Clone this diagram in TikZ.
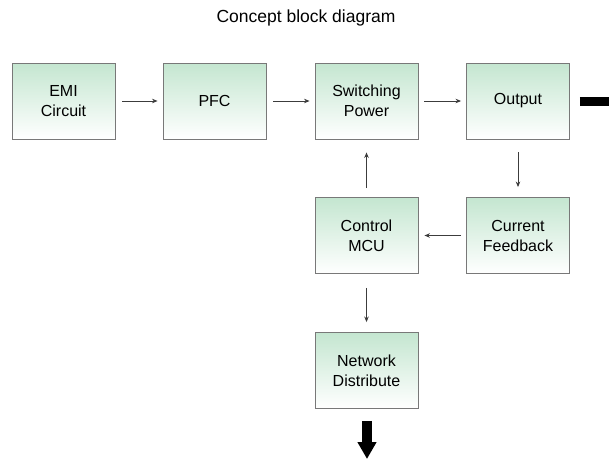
\documentclass[tikz,border=0pt]{standalone}
\usepackage{fontspec}
\setmainfont{Liberation Sans}
\usetikzlibrary{arrows.meta}
\definecolor{boxtop}{RGB}{196,230,208}
\definecolor{boxline}{RGB}{120,120,120}
\definecolor{arrowc}{RGB}{60,60,60}
\tikzset{
  block/.style={draw=boxline, line width=0.9pt, top color=boxtop, bottom color=white,
    minimum width=103pt, minimum height=76pt, inner sep=0pt, align=center,
    font=\fontsize{16}{20}\selectfont},
  flow/.style={draw=arrowc, line width=0.8pt, -{Stealth[length=5.5pt,width=4.5pt]}},
  bigflow/.style={draw=black, line width=10pt, -{Triangle[width=18pt,length=17pt]}}
}
\begin{document}
\begin{tikzpicture}[x=1pt,y=-1pt]
\useasboundingbox (0,0) rectangle (609,459);
\node[font=\fontsize{17.5}{20}\selectfont] (title) at (306,18) {Concept block diagram};
\node[block] (emi) at (63.5,101) {EMI\\Circuit};
\node[block] (pfc) at (214.5,101) {PFC};
\node[block] (sw) at (366.5,101) {Switching\\Power};
\node[block] (out) at (518,101) {Output};
\node[block] (mcu) at (366.5,235.5) {Control\\MCU};
\node[block] (cf) at (518,235.5) {Current\\Feedback};
\node[block] (net) at (366.5,370.5) {Network\\Distribute};
\coordinate (outend) at (612,101.5);
\coordinate (netend) at (367,459);
\draw[flow, shorten <=7pt, shorten >=5pt] (emi) -- (pfc);
\draw[flow, shorten <=7pt, shorten >=5pt] (pfc) -- (sw);
\draw[flow, shorten <=6pt, shorten >=5pt] (sw) -- (out);
\draw[flow, shorten <=9pt, shorten >=13pt] (mcu) -- (sw);
\draw[flow, shorten <=13pt, shorten >=10pt] (out) -- (cf);
\draw[flow, shorten <=5pt, shorten >=6pt] (cf) -- (mcu);
\draw[flow, shorten <=14pt, shorten >=10pt] (mcu) -- (net);
\draw[draw=black, line width=9pt, shorten <=10pt] (out.east |- outend) -- (outend);
\draw[bigflow, shorten <=12pt] (net.south -| netend) -- (netend);
\end{tikzpicture}
\end{document}
